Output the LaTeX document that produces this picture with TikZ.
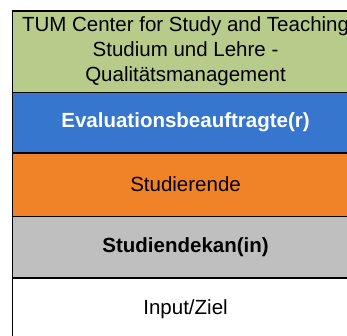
\documentclass[tikz,border=0pt]{standalone}
\usepackage{fontspec}
\setmainfont{Liberation Sans}
\definecolor{bandgreen}{RGB}{183,203,139}
\definecolor{bandblue}{RGB}{55,118,206}
\definecolor{bandorange}{RGB}{240,130,40}
\definecolor{bandgray}{RGB}{191,191,191}
\begin{document}
\begin{tikzpicture}[x=1pt,y=-1pt,
  band/.style={draw=black, line width=1.6pt, minimum width=346.5pt, inner sep=0pt,
    anchor=north west, align=center, font=\fontsize{20.5}{25}\selectfont}]
\useasboundingbox (0,0) rectangle (347,335);
\clip (0,0) rectangle (347,335);
\node[band, fill=white, minimum height=63pt] (input) at (11.5,277) {Input/Ziel};
\node[band, fill=bandgray, minimum height=61.5pt] (dekan) at (11.5,215.5) {\bfseries Studiendekan(in)};
\node[band, fill=bandorange, minimum height=63.5pt] (stud) at (11.5,152) {Studierende};
\node[band, fill=bandblue, text=white, minimum height=60.5pt] (eval) at (11.5,91.5) {\bfseries Evaluationsbeauftragte(r)};
\node[band, fill=bandgreen, minimum height=81.5pt] (tum) at (11.5,10) {TUM Center for Study and Teaching\\Studium und Lehre -\\Qualitätsmanagement};
\end{tikzpicture}
\end{document}
